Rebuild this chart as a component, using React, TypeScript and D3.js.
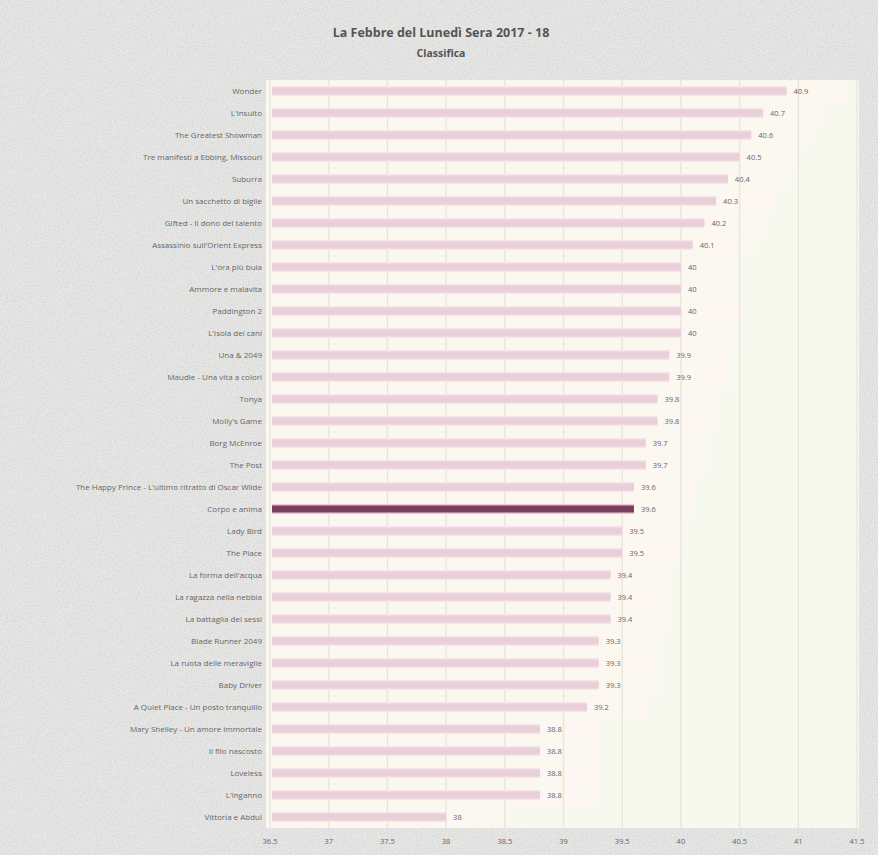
import React from "react";
import * as d3 from "d3";

const titles = [
  "Wonder",
  "L'insulto",
  "The Greatest Showman",
  "Tre manifesti a Ebbing, Missouri",
  "Suburra",
  "Un sacchetto di biglie",
  "Gifted - Il dono del talento",
  "Assassinio sull'Orient Express",
  "L'ora più buia",
  "Ammore e malavita",
  "Paddington 2",
  "L'isola dei cani",
  "Una & 2049",
  "Maudie - Una vita a colori",
  "Tonya",
  "Molly's Game",
  "Borg McEnroe",
  "The Post",
  "The Happy Prince - L'ultimo ritratto di Oscar Wilde",
  "Corpo e anima",
  "Lady Bird",
  "The Place",
  "La forma dell'acqua",
  "La ragazza nella nebbia",
  "La battaglia dei sessi",
  "Blade Runner 2049",
  "La ruota delle meraviglie",
  "Baby Driver",
  "A Quiet Place - Un posto tranquillo",
  "Mary Shelley - Un amore immortale",
  "Il filo nascosto",
  "Loveless",
  "L'inganno",
  "Vittoria e Abdul",
];

const scores = [
  40.9, 40.7, 40.6, 40.5, 40.4, 40.3, 40.2, 40.1, 40, 40, 40, 40, 39.9, 39.9,
  39.8, 39.8, 39.7, 39.7, 39.6, 39.6, 39.5, 39.5, 39.4, 39.4, 39.4, 39.3, 39.3,
  39.3, 39.2, 38.8, 38.8, 38.8, 38.8, 38,
];

const highlighted = "Corpo e anima";
const xTicks = [36.5, 37, 37.5, 38, 38.5, 39, 39.5, 40, 40.5, 41, 41.5];

const W = 878;
const H = 855;
const plot = { left: 266, right: 859, top: 80, bottom: 828 };

export default function App() {
  const rows = titles.map((t, i) => ({ title: t, score: scores[i] }));
  const x = d3.scaleLinear().domain([36.5, 41.5]).range([270, 857]);
  const y = d3
    .scaleBand<string>()
    .domain(titles)
    .range([plot.top, plot.bottom]);
  const font = "'Open Sans', 'DejaVu Sans', sans-serif";

  return (
    <svg
      width={W}
      height={H}
      style={{ position: "absolute", left: 0, top: 0, display: "block" }}
    >
      <defs>
        <filter id="grain" x="0" y="0" width="100%" height="100%">
          <feTurbulence type="fractalNoise" baseFrequency="0.8" numOctaves="2" seed="3" />
          <feColorMatrix type="saturate" values="0" />
          <feComponentTransfer>
            <feFuncA type="table" tableValues="0 0.4" />
          </feComponentTransfer>
        </filter>
      </defs>
      <rect width={W} height={H} fill="#ececeb" />
      <rect width={W} height={H} filter="url(#grain)" />

      <text
        x={441}
        y={37}
        textAnchor="middle"
        fontFamily={font}
        fontSize={12.5}
        fontWeight="bold"
        fill="#555"
      >
        La Febbre del Lunedì Sera 2017 - 18
      </text>
      <text
        x={441}
        y={57}
        textAnchor="middle"
        fontFamily={font}
        fontSize={10.5}
        fontWeight="bold"
        fill="#555"
      >
        Classifica
      </text>

      <rect
        x={plot.left}
        y={plot.top}
        width={plot.right - plot.left}
        height={plot.bottom - plot.top}
        fill="#f8f9ee"
      />
      {rows.map((d) => (
        <rect
          key={"band" + d.title}
          x={plot.left}
          y={y(d.title)! + 1}
          width={x(d.score) - plot.left + 60}
          height={y.bandwidth() - 2}
          fill="#fcf7f1"
        />
      ))}
      {xTicks.map((t) => (
        <g key={t}>
          <line
            x1={x(t)}
            x2={x(t)}
            y1={plot.top}
            y2={plot.bottom}
            stroke="#e9e7dc"
            strokeWidth={1.5}
          />
          <text
            x={x(t)}
            y={844}
            textAnchor="middle"
            fontFamily={font}
            fontSize={7.5}
            fill="#666"
          >
            {t}
          </text>
        </g>
      ))}

      {rows.map((d) => {
        const cy = y(d.title)! + y.bandwidth() / 2;
        const hi = d.title === highlighted;
        return (
          <g key={d.title}>
            <rect
              x={x(36.5) + 2}
              y={cy - 5}
              width={x(d.score) - x(36.5) - 2}
              height={10}
              fill={hi ? "#f2c6d6" : "#f5e4e9"}
            />
            <rect
              x={x(36.5) + 2}
              y={cy - 3.5}
              width={x(d.score) - x(36.5) - 2}
              height={7}
              fill={hi ? "#7b3d5c" : "#e8cfd8"}
            />
            <text
              x={262}
              y={cy}
              dy="0.35em"
              textAnchor="end"
              fontFamily={font}
              fontSize={8}
              fill="#666"
            >
              {d.title}
            </text>
            <text
              x={x(d.score) + 7}
              y={cy}
              dy="0.35em"
              fontFamily={font}
              fontSize={7.5}
              fill="#666"
            >
              {d.score}
            </text>
          </g>
        );
      })}
    </svg>
  );
}
